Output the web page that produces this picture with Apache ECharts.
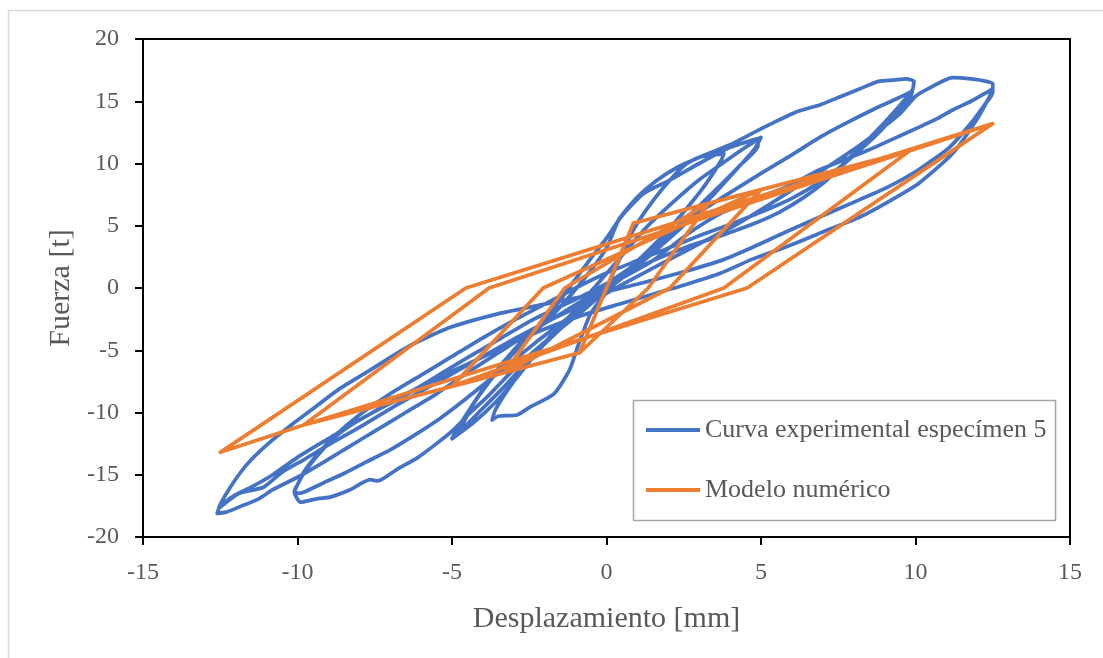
<!DOCTYPE html>
<html>
<head>
<meta charset="utf-8">
<script src="https://cdn.jsdelivr.net/npm/echarts@6/dist/echarts.min.js"></script>
<style>
  html, body { margin: 0; padding: 0; background: #fff; }
  #chart { width: 1103px; height: 658px; }
</style>
</head>
<body>
<div id="chart"></div>
<script>
// ejes
var xTicks = [-15, -10, -5, 0, 5, 10, 15];
var yTicks = [-20, -15, -10, -5, 0, 5, 10, 15, 20];

// curva experimental (desplazamiento mm, fuerza t)
var expDisp = [
    0, 0.4, 0.9, 1.5, 2.1, 2.6, 3.0, 3.5, 3.8,
    3.7, 3.2, 2.6, 1.9, 1.1, 0.3, -0.5, -0.9, -1.2, -1.7, -2.5, -2.9, -3.5, -3.7,
    -3.6, -3.2, -2.6, -1.9, -1.1, -0.3, 0.5, 1.3, 2.2, 3.0, 3.8, 4.5, 5.0,
    4.8, 4.2, 3.5, 2.7, 1.9, 1.0, 0.0, -0.8, -1.5, -2.2, -2.9, -3.6, -4.3, -5.0,
    -4.9, -4.6, -3.8, -2.9, -1.9, -1.1, -0.5, 0.0, 0.5, 1.2, 2.0, 3.0, 4.0, 4.9,
    4.9, 4.3, 3.5, 2.5, 1.6, 0.7, -0.2, -1.0, -1.8, -2.6, -3.3, -4.1, -4.8,
    -4.3, -3.5, -2.6, -1.6, -0.7, 0.0, 0.4, 1.0, 1.6, 2.3, 3.2, 4.0, 4.7, 5.5, 6.2, 6.9, 7.5, 8.2, 8.8, 9.3, 9.7, 9.95,
    9.9, 9.4, 8.85, 8.3, 7.8, 7.1, 6.4, 5.6, 4.8, 3.7, 2.6, 1.5, 0.5, -0.5, -1.5, -2.5, -3.6, -4.5, -5.3, -6.1, -6.8, -7.5, -8.2, -8.8, -9.4, -9.8, -10.0, -10.1,
    -9.9, -9.5, -9.3, -8.95, -8.3, -7.65, -7.4, -6.8, -6.1, -5.5, -5.0, -4.4, -3.8, -3.1, -2.4, -1.6, -0.8, 0.0, 0.8, 1.6, 2.6, 3.7, 5.0, 6.0, 6.9, 7.8, 8.6, 9.3, 9.9,
    9.8, 9.4, 8.9, 8.3, 7.6, 6.9, 6.0, 5.1, 4.1, 3.0, 2.0, 1.0, 0.0, -1.0, -2.0, -3.0, -4.0, -5.0, -6.0, -7.0, -8.0, -8.8, -9.4, -9.8, -10.0, -10.1,
    -10.0, -9.8, -9.2, -8.5, -7.8, -7.0, -6.2, -5.4, -4.6, -3.8, -3.0, -2.2, -1.4, -0.6, 0.3, 1.2, 2.2, 3.2, 4.2, 5.2, 6.2, 7.2, 8.1, 8.9, 9.5, 10.0, 10.4, 11.2, 11.8, 12.3, 12.5,
    12.5, 12.2, 11.8, 11.1, 10.1, 9.1, 8.2, 6.9, 5.8, 4.75, 3.7, 2.5, 1.3, 0.0, -1.2, -2.4, -3.55, -5.1, -6.45, -7.65, -8.7, -9.5, -10.2, -10.9, -11.5, -11.9, -12.3, -12.5, -12.6,
    -12.3, -11.9, -11.3, -10.8, -10.0, -9.3, -8.5, -7.5, -6.5, -5.5, -4.5, -3.5, -2.5, -1.5, -0.5, 0.5, 1.5, 2.6, 3.7, 4.75, 5.8, 6.9, 7.7, 8.5, 9.3, 10.1, 10.7, 11.2, 11.8, 12.3, 12.5,
    12.4, 12.0, 11.2, 10.1, 9.1, 8.2, 7.0, 5.8, 4.7, 3.7, 2.6, 1.5, 0.4, -0.8, -2.0, -3.2, -4.4, -5.6, -6.8, -8.0, -9.0, -10.0, -10.8, -11.5, -12.0, -12.4, -12.5,
    -12.3, -11.9, -11.1, -10.5, -9.8, -9.0, -8.0, -7.0, -6.0, -5.0, -4.0, -3.0, -2.0, -1.0, 0.0
];
var expForce = [
    0, 2.2, 4.8, 7.0, 8.8, 10.0, 10.5, 10.7, 10.8,
    10.2, 8.3, 6.4, 4.4, 2.4, 0.5, -2.0, -4.5, -6.6, -8.5, -9.6, -10.2, -10.3, -10.6,
    -9.8, -8.2, -6.2, -4.2, -2.0, 0.3, 2.6, 4.9, 7.0, 8.7, 10.1, 11.3, 12.1,
    11.2, 9.5, 7.6, 5.5, 3.7, 2.0, 0.3, -1.4, -3.0, -5.0, -7.2, -9.2, -10.8, -12.1,
    -11.6, -10.4, -7.4, -4.7, -2.3, 0.4, 2.4, 4.0, 5.8, 7.6, 8.6, 10.0, 11.3, 12.0,
    11.4, 9.8, 7.8, 5.4, 3.3, 1.3, -0.6, -2.2, -4.0, -6.0, -7.9, -9.9, -11.7,
    -9.3, -6.6, -4.2, -1.8, 0.8, 3.2, 5.5, 7.3, 8.6, 9.7, 10.7, 11.5, 12.4, 13.4, 14.2, 14.7, 15.3, 16.0, 16.6, 16.7, 16.8, 16.6,
    15.9, 14.4, 12.9, 11.5, 10.3, 8.6, 7.3, 6.1, 5.2, 4.2, 3.3, 2.2, 1.0, -0.3, -1.5, -2.7, -4.3, -5.6, -6.8, -8.0, -8.9, -9.9, -10.9, -12.0, -13.6, -14.9, -15.8, -16.4,
    -17.2, -17.0, -16.9, -16.8, -16.2, -15.4, -15.5, -14.6, -13.6, -12.5, -11.5, -10.0, -8.6, -6.8, -5.2, -3.5, -1.9, -0.2, 1.4, 3.0, 5.4, 7.2, 9.2, 10.7, 12.1, 13.3, 14.3, 15.1, 15.8,
    15.2, 14.1, 12.7, 11.3, 9.8, 8.5, 7.2, 6.2, 5.2, 4.2, 3.2, 2.2, 1.2, 0.0, -1.3, -2.6, -4.0, -5.5, -7.0, -8.5, -10.2, -11.9, -13.5, -14.8, -15.8, -16.3,
    -16.5, -16.4, -15.7, -14.9, -14.0, -13.0, -11.8, -10.5, -9.0, -7.4, -5.8, -4.2, -2.7, -1.3, 0.0, 1.2, 2.5, 3.8, 5.1, 6.6, 8.2, 9.8, 11.3, 12.8, 14.0, 15.4, 16.0, 16.9, 16.8, 16.6, 16.4,
    15.7, 14.6, 13.25, 11.3, 9.5, 8.1, 7.1, 5.7, 4.5, 3.3, 2.2, 1.3, 0.5, -0.3, -0.9, -1.5, -2.1, -3.2, -4.75, -6.6, -8.2, -9.7, -11.0, -12.4, -13.8, -15.0, -16.5, -17.4, -18.1,
    -18.0, -17.6, -17.0, -16.2, -15.2, -14.2, -13.0, -11.5, -10.0, -8.5, -6.8, -5.2, -3.6, -2.1, -0.6, 0.8, 2.2, 4.3, 6.0, 7.1, 8.1, 9.5, 10.3, 11.1, 12.0, 12.9, 13.6, 14.3, 15.0, 15.7, 16.0,
    15.4, 13.6, 10.8, 8.4, 6.9, 5.7, 4.5, 3.3, 2.3, 1.2, 0.3, -0.5, -1.3, -2.2, -3.3, -4.6, -6.0, -7.4, -9.0, -10.6, -12.1, -13.6, -15.0, -16.0, -16.6, -17.3, -17.6,
    -17.2, -16.5, -16.0, -14.8, -13.8, -12.6, -11.2, -9.7, -8.3, -6.9, -5.5, -4.1, -2.8, -1.6, -0.4
];

// modelo numerico (vertices)
var modDisp = [0, 0.87, -0.87, 0.87, 3.3, 1.35, -0.87, -3.3, -1.35, 3.3, 5.0, 2.05, -3.3, -5.0, -2.05, 5.0, 9.8, 3.8, -5.0, -9.8, -3.8, 9.8, 12.5, 4.55, -9.8, -12.5, -4.55, 12.5];
var modForce = [0, 5.2, -5.2, 5.2, 6.8, 0, -5.2, -6.8, 0, 6.8, 7.9, 0, -6.8, -7.9, 0, 7.9, 11.0, 0, -7.9, -11.0, 0, 11.0, 13.2, 0, -11.0, -13.2, 0, 13.2];

var pairs = function (xs, ys) {
    var out = [];
    for (var i = 0; i < xs.length; i++) {
        out.push([xs[i], ys[i]]);
    }
    return out;
};

var fontFam = '"Liberation Serif", "Times New Roman", serif';
var txtColor = '#595959';

var myChart = echarts.init(document.getElementById('chart'));

var option = {
    backgroundColor: '#fff',
    animation: false,
    grid: {
        left: 143,
        top: 39,
        right: 33,
        bottom: 121,
        show: true,
        borderColor: '#000',
        borderWidth: 2
    },
    graphic: [
        {
            type: 'rect',
            z: -1,
            shape: { x: 8.5, y: 10.5, width: 1200, height: 800 },
            style: { fill: 'none', stroke: '#d9d9d9', lineWidth: 1.5 }
        },
        {
            type: 'rect',
            z: 3,
            shape: { x: 633.5, y: 400.5, width: 422, height: 120 },
            style: { fill: '#fff', stroke: '#a6a6a6', lineWidth: 1.5 }
        }
    ],
    legend: {
        orient: 'vertical',
        left: 633,
        top: 400,
        z: 4,
        padding: [15, 4, 15, 13],
        itemGap: 30,
        itemWidth: 54,
        itemHeight: 4,
        icon: 'rect',
        textStyle: {
            fontFamily: fontFam,
            fontSize: 26,
            color: txtColor,
            lineHeight: 30
        },
        data: ['Curva experimental especímen 5', 'Modelo numérico']
    },
    xAxis: {
        type: 'value',
        min: xTicks[0],
        max: xTicks[xTicks.length - 1],
        interval: 5,
        name: 'Desplazamiento [mm]',
        nameLocation: 'middle',
        nameGap: 67,
        nameTextStyle: { fontFamily: fontFam, fontSize: 30, color: txtColor },
        axisLine: { onZero: false, lineStyle: { color: '#000', width: 2 } },
        axisTick: { length: 8, lineStyle: { color: '#000', width: 2 } },
        axisLabel: { fontFamily: fontFam, fontSize: 24, color: txtColor, margin: 24 },
        splitLine: { show: false }
    },
    yAxis: {
        type: 'value',
        min: yTicks[0],
        max: yTicks[yTicks.length - 1],
        interval: 5,
        name: 'Fuerza [t]',
        nameLocation: 'middle',
        nameRotate: 90,
        nameGap: 64,
        nameTextStyle: { fontFamily: fontFam, fontSize: 30, color: txtColor },
        axisLine: { onZero: false, lineStyle: { color: '#000', width: 2 } },
        axisTick: { length: 8, lineStyle: { color: '#000', width: 2 } },
        axisLabel: { fontFamily: fontFam, fontSize: 24, color: txtColor, margin: 24 },
        splitLine: { show: false }
    },
    series: [
        {
            name: 'Curva experimental especímen 5',
            type: 'line',
            showSymbol: false,
            smooth: 0.2,
            color: '#4472C4',
            lineStyle: { width: 3.75, join: 'round' },
            data: pairs(expDisp, expForce)
        },
        {
            name: 'Modelo numérico',
            type: 'line',
            showSymbol: false,
            color: '#ED7D31',
            lineStyle: { width: 3.75, join: 'round' },
            data: pairs(modDisp, modForce)
        }
    ]
};

myChart.setOption(option);
window.onresize = myChart.resize;
</script>
</body>
</html>
